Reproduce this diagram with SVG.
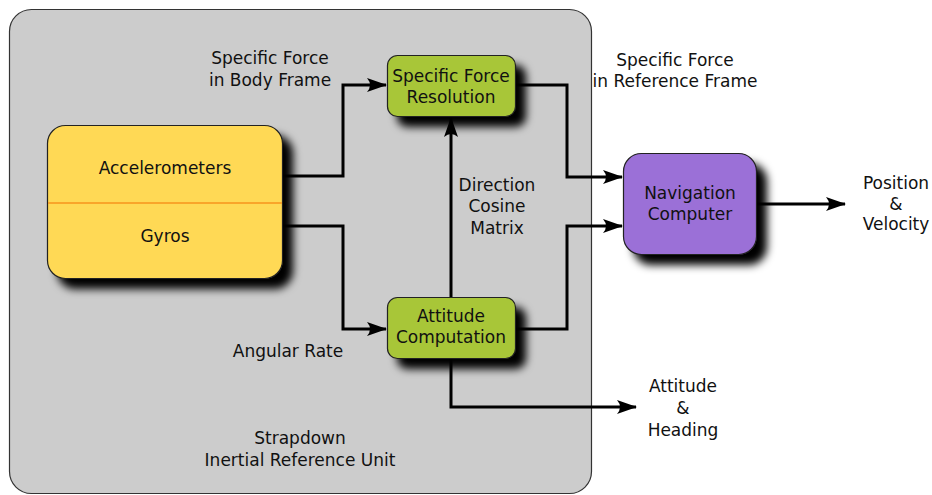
<svg xmlns="http://www.w3.org/2000/svg" width="932" height="495" viewBox="0 0 932 495">
  <style>
    text { font-family: "DejaVu Sans", "Liberation Sans", sans-serif; font-size: 17px; fill: #111; text-anchor: middle; }
    .wire { fill: none; stroke: #000; stroke-width: 3; stroke-linejoin: miter; }
    .box { stroke: #222; stroke-width: 1.2; }
  </style>
  <defs>
    <filter id="shadow" x="-20%" y="-20%" width="160%" height="170%">
      <feGaussianBlur in="SourceAlpha" stdDeviation="4.5"/>
      <feOffset dx="10" dy="10" result="b"/>
      <feMerge><feMergeNode in="b"/><feMergeNode in="SourceGraphic"/></feMerge>
    </filter>
    <marker id="arrow" viewBox="0 0 20 14" refX="19" refY="7" markerWidth="20" markerHeight="14" markerUnits="userSpaceOnUse" orient="auto">
      <path d="M0,0 L20,7 L0,14 Q6,7 0,0 Z" fill="#000"/>
    </marker>
  </defs>

  <!-- unit enclosure -->
  <g id="unit">
    <rect x="9.5" y="9.5" width="582" height="484" rx="22" fill="#cccccc" stroke="#333" stroke-width="1.2"/>
    <text x="300" y="444">Strapdown</text>
    <text x="300" y="466">Inertial Reference Unit</text>
  </g>

  <!-- connectors -->
  <g id="connectors">
    <path class="wire" d="M283,176 H343 V85 H386" marker-end="url(#arrow)"/>
    <path class="wire" d="M283,226 H343 V329 H386" marker-end="url(#arrow)"/>
    <path class="wire" d="M516,85 H567 V177 H622" marker-end="url(#arrow)"/>
    <path class="wire" d="M516,329 H567 V226 H622" marker-end="url(#arrow)"/>
    <path class="wire" d="M451,297 V118" marker-end="url(#arrow)"/>
    <path class="wire" d="M451,358 V407 H636" marker-end="url(#arrow)"/>
    <path class="wire" d="M757,204 H845" marker-end="url(#arrow)"/>
  </g>

  <g id="sensors">
    <rect class="box" x="47.5" y="125.5" width="235" height="153" rx="18" fill="#ffd955" filter="url(#shadow)"/>
    <line x1="48" y1="203" x2="282" y2="203" stroke="#f7931e" stroke-width="1.5"/>
    <text x="165" y="174">Accelerometers</text>
    <text x="165" y="242">Gyros</text>
  </g>

  <g id="force-resolution">
    <rect class="box" x="387.5" y="55.5" width="128" height="61" rx="10" fill="#a8c637" filter="url(#shadow)"/>
    <text x="451" y="82">Specific Force</text>
    <text x="451" y="103">Resolution</text>
  </g>

  <g id="attitude-computation">
    <rect class="box" x="387.5" y="297.5" width="128" height="61" rx="10" fill="#a8c637" filter="url(#shadow)"/>
    <text x="451" y="322">Attitude</text>
    <text x="451" y="343">Computation</text>
  </g>

  <g id="navigation-computer">
    <rect class="box" x="623.5" y="153.5" width="133" height="101" rx="18" fill="#9b6fd7" filter="url(#shadow)"/>
    <text x="690" y="199">Navigation</text>
    <text x="690" y="220">Computer</text>
  </g>

  <!-- signal labels -->
  <g id="labels">
    <text x="270" y="64">Specific Force</text>
    <text x="270" y="86">in Body Frame</text>
    <text x="675" y="66">Specific Force</text>
    <text x="675" y="87">in Reference Frame</text>
    <text x="497" y="191">Direction</text>
    <text x="497" y="212">Cosine</text>
    <text x="497" y="234">Matrix</text>
    <text x="288" y="357">Angular Rate</text>
    <text x="896" y="189">Position</text>
    <text x="896" y="210">&amp;</text>
    <text x="896" y="230">Velocity</text>
    <text x="683" y="392">Attitude</text>
    <text x="683" y="414">&amp;</text>
    <text x="683" y="436">Heading</text>
  </g>
</svg>
